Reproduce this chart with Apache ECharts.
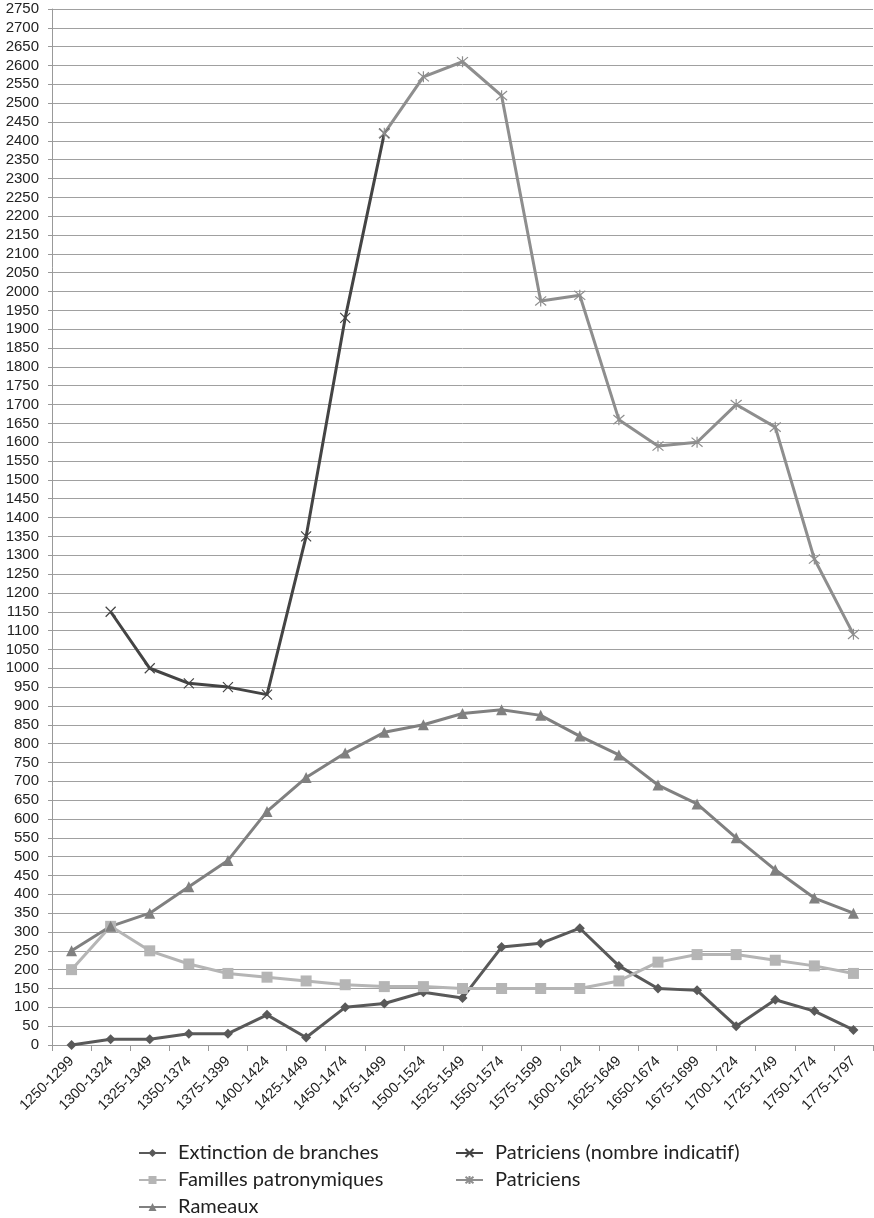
<!DOCTYPE html>
<html>
<head>
<meta charset="utf-8">
<script src="https://cdn.jsdelivr.net/npm/echarts@6/dist/echarts.min.js"></script>
<style>
  html, body { margin: 0; padding: 0; background: #fff; }
  #chart { width: 874px; height: 1218px; }
</style>
</head>
<body>
<div id="chart"></div>
<script>
// Periods (x axis categories)
const periods = ['1250-1299','1300-1324','1325-1349','1350-1374','1375-1399','1400-1424','1425-1449',
  '1450-1474','1475-1499','1500-1524','1525-1549','1550-1574','1575-1599','1600-1624','1625-1649',
  '1650-1674','1675-1699','1700-1724','1725-1749','1750-1774','1775-1797'];

const extinction = [0, 15, 15, 30, 30, 80, 20, 100, 110, 140, 125, 260, 270, 310, 210, 150, 145, 50, 120, 90, 40];
const familles = [200, 315, 250, 215, 190, 180, 170, 160, 155, 155, 150, 150, 150, 150, 170, 220, 240, 240, 225, 210, 190];
const rameaux = [250, 315, 350, 420, 490, 620, 710, 775, 830, 850, 880, 890, 875, 820, 770, 690, 640, 550, 465, 390, 350];
const patriciensIndicatif = [null, 1150, 1000, 960, 950, 930, 1350, 1930, 2420, null, null, null, null, null, null, null, null, null, null, null, null];
const patriciens = [null, null, null, null, null, null, null, null, 2420, 2570, 2610, 2520, 1975, 1990, 1660, 1590, 1600, 1700, 1640, 1290, 1090];

const seriesNames = ['Extinction de branches', 'Familles patronymiques', 'Rameaux',
  'Patriciens (nombre indicatif)', 'Patriciens'];

const yMin = 0, yMax = 2750, yStep = 50;

const crossPath = 'path://M0,0L10,10M10,0L0,10';
const starPath = 'path://M0,0L10,10M10,0L0,10M5,-1L5,11';

function lineSeries(name, data, color, symbol, size, strokeOnly) {
  return {
    name, type: 'line', data,
    symbol, symbolSize: size,
    showSymbol: true,
    connectNulls: false,
    lineStyle: { color, width: 3 },
    itemStyle: strokeOnly
      ? { color: 'rgba(0,0,0,0)', borderColor: color, borderWidth: 1.2 }
      : { color, borderWidth: 0 },
    emphasis: { disabled: true },
    animation: false
  };
}

const chart = echarts.init(document.getElementById('chart'), null, { renderer: 'canvas' });

// One legend block per entry: two columns, three rows
function legendEntry(name, left, top) {
  return {
    data: [name], left, top, padding: 0,
    itemWidth: 27, itemHeight: 10, itemGap: 0,
    textStyle: { fontFamily: 'Lato', fontSize: 20, color: '#222', padding: [0, 0, 0, 7] },
    selectedMode: false
  };
}

chart.setOption({
  backgroundColor: '#fff',
  animation: false,
  grid: { left: 52, right: 1, top: 9, bottom: 173, containLabel: false },
  legend: [
    legendEntry(seriesNames[0], 138, 1143),
    legendEntry(seriesNames[1], 138, 1170),
    legendEntry(seriesNames[2], 138, 1197),
    legendEntry(seriesNames[3], 455, 1143),
    legendEntry(seriesNames[4], 455, 1170)
  ],
  xAxis: {
    type: 'category',
    data: periods,
    boundaryGap: true,
    axisLine: { show: true, lineStyle: { color: '#999', width: 1 } },
    axisTick: { show: true, length: 6, lineStyle: { color: '#999' } },
    axisLabel: {
      rotate: 45, interval: 0, margin: 14,
      fontFamily: 'Liberation Sans', fontSize: 14.5, color: '#222'
    },
    splitLine: { show: false }
  },
  yAxis: {
    type: 'value',
    min: yMin, max: yMax, interval: yStep,
    axisLine: { show: true, lineStyle: { color: '#999', width: 1 } },
    axisTick: { show: true, length: 4, lineStyle: { color: '#999' } },
    axisLabel: {
      fontFamily: 'Liberation Sans', fontSize: 15, color: '#222', margin: 13,
      formatter: v => String(v)
    },
    splitLine: { show: true, lineStyle: { color: '#a0a0a0', width: 1 } }
  },
  series: [
    lineSeries(seriesNames[0], extinction, '#595959', 'diamond', 10, false),
    lineSeries(seriesNames[1], familles, '#b5b5b5', 'rect', 11, false),
    lineSeries(seriesNames[2], rameaux, '#808080', 'triangle', 11, false),
    lineSeries(seriesNames[3], patriciensIndicatif, '#444444', crossPath, 10, true),
    lineSeries(seriesNames[4], patriciens, '#8e8e8e', starPath, 11, true)
  ]
});
</script>
</body>
</html>
